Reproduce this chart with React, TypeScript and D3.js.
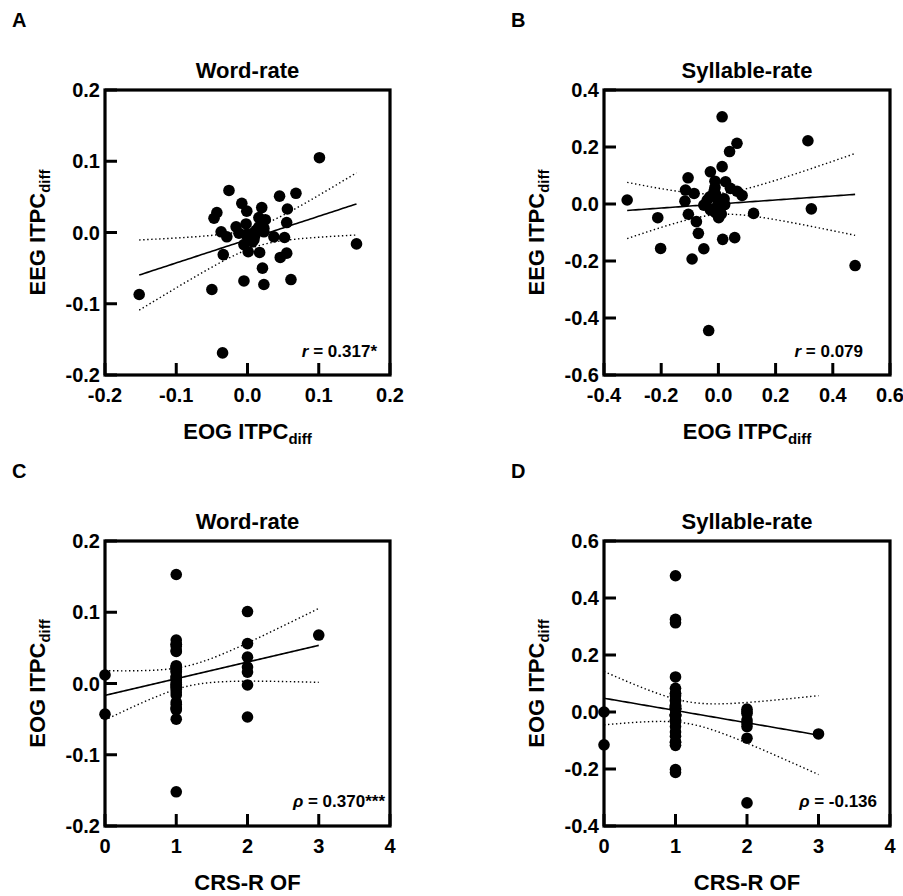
import React from "react";
import * as d3 from "d3";

// ---------- Data (one entry per patient) ----------
// Word-rate: EOG ITPC diff (A x-axis, C y-axis), EEG ITPC diff (A y-axis), CRS-R OF (C x-axis)
const wordEOG = [0.101, -0.026, 0.045, 0.068, -0.008, 0.020, -0.001, 0.056, -0.043, -0.047, 0.016, 0.025, 0.055, -0.002, -0.016, -0.037, -0.029, 0.005, 0.023, 0.037, 0.052, 0.009, -0.005, 0.001, 0.017, -0.034, 0.046, 0.055, 0.021, -0.005, 0.023, 0.061, -0.050, -0.152, 0.153, -0.035, 0.016, 0.023, -0.002, 0.007, 0.012, 0.010, -0.012];
const wordEEG = [0.105, 0.059, 0.051, 0.055, 0.041, 0.035, 0.030, 0.033, 0.028, 0.020, 0.021, 0.018, 0.014, 0.012, 0.008, 0.001, -0.006, -0.002, 0.001, -0.006, -0.007, -0.010, -0.017, -0.027, -0.028, -0.031, -0.035, -0.029, -0.050, -0.068, -0.073, -0.066, -0.080, -0.087, -0.016, -0.169, 0.008, 0.006, -0.003, -0.013, 0.003, -0.005, -0.001];
const wordCRS = [2, 1, 1, 3, 1, 1, 1, 2, 0, 2, 2, 1, 1, 2, 1, 1, 1, 1, 2, 2, 1, 1, 1, 1, 1, 1, 1, 1, 1, 1, 1, 1, 1, 1, 1, 1, 1, 1, 1, 1, 0, 1, 1];

// Syllable-rate: EOG ITPC diff (B x-axis, D y-axis), EEG ITPC diff (B y-axis), CRS-R OF (D x-axis)
const syllEOG = [-0.319, -0.212, -0.202, -0.106, -0.115, -0.085, -0.117, -0.105, -0.077, -0.070, -0.051, -0.092, -0.034, -0.028, 0.013, 0.039, 0.065, 0.013, -0.012, 0.025, 0.042, 0.065, 0.083, 0.123, 0.015, 0.057, 0.001, 0.313, 0.325, 0.478, -0.039, -0.051, -0.028, 0.010, -0.030, 0.000, -0.010, -0.010, 0.010, 0.020, -0.015, -0.012, 0.010, -0.005, 0.022, -0.008];
const syllEEG = [0.014, -0.048, -0.156, 0.092, 0.049, 0.037, 0.010, -0.036, -0.062, -0.103, -0.157, -0.193, -0.444, 0.113, 0.306, 0.184, 0.213, 0.131, 0.080, 0.078, 0.055, 0.045, 0.030, -0.033, -0.124, -0.118, -0.048, 0.222, -0.017, -0.216, 0.014, -0.004, -0.021, -0.009, 0.025, 0.005, 0.035, -0.030, 0.012, 0.018, 0.045, 0.058, -0.035, -0.010, -0.002, -0.015];
const syllCRS = [2, 1, 1, 1, 0, 1, 1, 1, 3, 1, 1, 2, 1, 1, 1, 1, 1, 1, 1, 1, 1, 1, 1, 1, 1, 1, 2, 1, 1, 1, 2, 2, 2, 1, 1, 0, 1, 1, 2, 1, 1, 1, 1, 2, 1, 1];

// ---------- Labels / ticks ----------
const panelLetters = ["A", "B", "C", "D"];
const panelTitles = ["Word-rate", "Syllable-rate", "Word-rate", "Syllable-rate"];
const statSymbols = ["r", "r", "\u03c1", "\u03c1"];
const statValues = [" = 0.317*", " = 0.079", " = 0.370***", " = -0.136"];
const xLabelMains = ["EOG ITPC", "EOG ITPC", "CRS-R OF", "CRS-R OF"];
const xLabelSubs = ["diff", "diff", "", ""];
const yLabelMains = ["EEG ITPC", "EEG ITPC", "EOG ITPC", "EOG ITPC"];
const yLabelSubs = ["diff", "diff", "diff", "diff"];

const ticksWord = [-0.2, -0.1, 0.0, 0.1, 0.2];
const ticksSyllX = [-0.4, -0.2, 0.0, 0.2, 0.4, 0.6];
const ticksSyllY = [-0.6, -0.4, -0.2, 0.0, 0.2, 0.4];
const ticksCRS = [0, 1, 2, 3, 4];
const ticksSyllEOG = [-0.4, -0.2, 0.0, 0.2, 0.4, 0.6];

const FONT = "'Liberation Sans', Arial, Helvetica, sans-serif";

type Panel = {
  xs: number[];
  ys: number[];
  xTicks: number[];
  yTicks: number[];
  xDec: number;
  yDec: number;
  box: { x0: number; x1: number; y0: number; y1: number };
  statX: number;
  statY: number;
};

const panels: Panel[] = [
  { xs: wordEOG, ys: wordEEG, xTicks: ticksWord, yTicks: ticksWord, xDec: 1, yDec: 1, box: { x0: 105, x1: 390, y0: 90, y1: 375 }, statX: 377, statY: 357 },
  { xs: syllEOG, ys: syllEEG, xTicks: ticksSyllX, yTicks: ticksSyllY, xDec: 1, yDec: 1, box: { x0: 604, x1: 890, y0: 90, y1: 375 }, statX: 863, statY: 357 },
  { xs: wordCRS, ys: wordEOG, xTicks: ticksCRS, yTicks: ticksWord, xDec: 0, yDec: 1, box: { x0: 105, x1: 390, y0: 541, y1: 826 }, statX: 385, statY: 807 },
  { xs: syllCRS, ys: syllEOG, xTicks: ticksCRS, yTicks: ticksSyllEOG, xDec: 0, yDec: 1, box: { x0: 604, x1: 890, y0: 541, y1: 826 }, statX: 877, statY: 807 },
];

function fmt(v: number, dec: number) {
  return Math.abs(v) < 1e-9 ? (0).toFixed(dec) : v.toFixed(dec);
}

function regression(xs: number[], ys: number[]) {
  const n = xs.length;
  const mx = d3.mean(xs) as number;
  const my = d3.mean(ys) as number;
  let sxx = 0, sxy = 0;
  for (let i = 0; i < n; i++) {
    sxx += (xs[i] - mx) ** 2;
    sxy += (xs[i] - mx) * (ys[i] - my);
  }
  const b = sxy / sxx;
  const a = my - b * mx;
  let sse = 0;
  for (let i = 0; i < n; i++) sse += (ys[i] - a - b * xs[i]) ** 2;
  const s = Math.sqrt(sse / (n - 2));
  const t = 2.02;
  const [x0, x1] = d3.extent(xs) as [number, number];
  const grid = d3.range(0, 81).map((i) => x0 + ((x1 - x0) * i) / 80);
  const hw = (x: number) => t * s * Math.sqrt(1 / n + (x - mx) ** 2 / sxx);
  return {
    center: grid.map((x) => [x, a + b * x] as [number, number]),
    upper: grid.map((x) => [x, a + b * x + hw(x)] as [number, number]),
    lower: grid.map((x) => [x, a + b * x - hw(x)] as [number, number]),
  };
}

function PanelView({ p, i }: { p: Panel; i: number }) {
  const { box } = p;
  const xScale = d3.scaleLinear().domain([p.xTicks[0], p.xTicks[p.xTicks.length - 1]]).range([box.x0, box.x1]);
  const yScale = d3.scaleLinear().domain([p.yTicks[0], p.yTicks[p.yTicks.length - 1]]).range([box.y1, box.y0]);
  const reg = regression(p.xs, p.ys);
  const line = d3.line<[number, number]>().x((d) => xScale(d[0])).y((d) => yScale(d[1]));
  const cx = (box.x0 + box.x1) / 2;
  const cy = (box.y0 + box.y1) / 2;
  const tickLen = 12;
  return (
    <g>
      <text x={box.x0 - 93} y={box.y0 - 63} fontFamily={FONT} fontWeight="bold" fontSize={20}>{panelLetters[i]}</text>
      <text x={cx} y={box.y0 - 12} textAnchor="middle" fontFamily={FONT} fontWeight="bold" fontSize={22}>{panelTitles[i]}</text>
      {p.xs.map((x, k) => (
        <circle key={k} cx={xScale(x)} cy={yScale(p.ys[k])} r={5.8} fill="#000" />
      ))}
      <path d={line(reg.center) || ""} fill="none" stroke="#000" strokeWidth={1.6} />
      <path d={line(reg.upper) || ""} fill="none" stroke="#000" strokeWidth={1.4} strokeDasharray="1.4 2.6" />
      <path d={line(reg.lower) || ""} fill="none" stroke="#000" strokeWidth={1.4} strokeDasharray="1.4 2.6" />
      <rect x={box.x0} y={box.y0} width={box.x1 - box.x0} height={box.y1 - box.y0} fill="none" stroke="#000" strokeWidth={3.2} />
      {p.xTicks.map((t, k) => (
        <g key={"xt" + k}>
          <line x1={xScale(t)} x2={xScale(t)} y1={box.y1} y2={box.y1 - tickLen} stroke="#000" strokeWidth={3} />
          <text x={xScale(t)} y={box.y1 + 27} textAnchor="middle" fontFamily={FONT} fontWeight="bold" fontSize={20}>{fmt(t, p.xDec)}</text>
        </g>
      ))}
      {p.yTicks.map((t, k) => (
        <g key={"yt" + k}>
          <line x1={box.x0} x2={box.x0 + tickLen} y1={yScale(t)} y2={yScale(t)} stroke="#000" strokeWidth={3} />
          <text x={box.x0 - 5} y={yScale(t) + 7} textAnchor="end" fontFamily={FONT} fontWeight="bold" fontSize={20}>{fmt(t, p.yDec)}</text>
        </g>
      ))}
      <text x={cx} y={box.y1 + 64} textAnchor="middle" fontFamily={FONT} fontWeight="bold" fontSize={22}>
        {xLabelMains[i]}
        {xLabelSubs[i] ? <tspan fontSize={15} dy={5}>{xLabelSubs[i]}</tspan> : null}
      </text>
      <text transform={`translate(${box.x0 - 60},${cy}) rotate(-90)`} textAnchor="middle" fontFamily={FONT} fontWeight="bold" fontSize={22}>
        {yLabelMains[i]}
        <tspan fontSize={15} dy={5}>{yLabelSubs[i]}</tspan>
      </text>
      <text x={p.statX} y={p.statY} textAnchor="end" fontFamily={FONT} fontWeight="bold" fontSize={17} style={{ whiteSpace: "pre" }}>
        <tspan fontStyle="italic">{statSymbols[i]}</tspan>
        <tspan>{statValues[i]}</tspan>
      </text>
    </g>
  );
}

export default function App() {
  return (
    <svg width={903} height={896} style={{ position: "absolute", left: 0, top: 0, background: "#fff" }}>
      <rect x={0} y={0} width={903} height={896} fill="#fff" />
      {panels.map((p, i) => (
        <PanelView key={i} p={p} i={i} />
      ))}
    </svg>
  );
}
